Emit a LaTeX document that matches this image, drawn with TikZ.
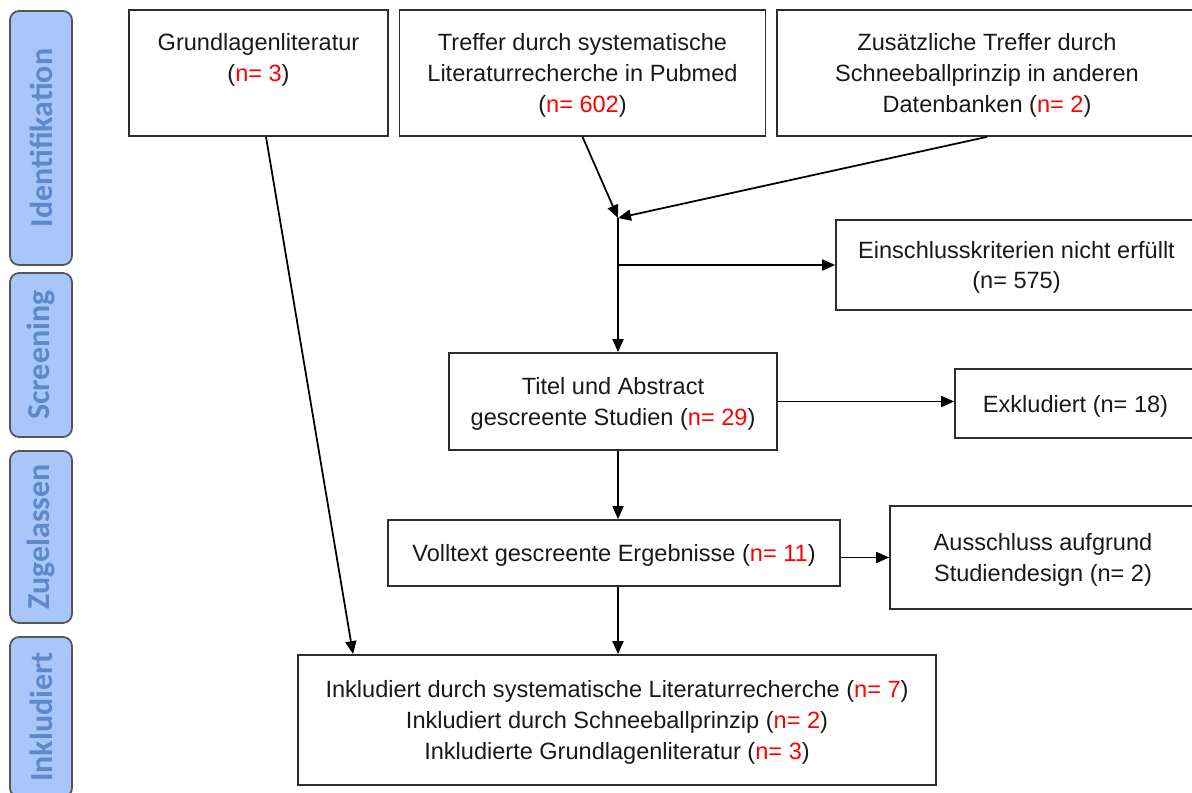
\documentclass[tikz,border=0pt]{standalone}
\usepackage{fontspec}
\setmainfont{Liberation Sans}
\newfontfamily\phasefont{Carlito}
\usetikzlibrary{arrows.meta}
\definecolor{phasefill}{RGB}{169,198,250}
\definecolor{phasetext}{RGB}{94,136,202}
\definecolor{phaseline}{RGB}{85,85,85}
\definecolor{boxline}{RGB}{45,45,45}
\newcommand{\nred}[1]{\textcolor{red}{#1}}
\begin{document}
\begin{tikzpicture}[x=0.02cm,y=-0.02cm,line width=1pt,
  box/.style={draw=boxline,align=center,inner sep=0pt,text depth=0pt,text=black!90,font=\fontsize{13.4}{17.6}\selectfont},
  phase/.style={draw=phaseline,fill=phasefill,rounded corners=0.18cm,rotate=90,inner sep=0pt,minimum height=1.24cm,text=phasetext,font=\phasefont\bfseries\fontsize{18.2}{20}\selectfont},
  >={Triangle[length=0.26cm,width=0.22cm]}]
\useasboundingbox (0,0) rectangle (1192,793);
\node[phase,minimum width=5.08cm] (ident) at (41,138) {Identifikation};
\node[phase,minimum width=3.28cm] (screen) at (41,355) {Screening};
\node[phase,minimum width=3.44cm] (zugel) at (41,537) {Zugelassen};
\node[phase,minimum width=3.2cm] (inklphase) at (41,717) {Inkludiert};
\node[box,minimum width=5.18cm,minimum height=2.52cm] (grund) at (258.5,73) {Grundlagenliteratur\\(\nred{n= 3})\\\mbox{}};
\node[box,minimum width=7.32cm,minimum height=2.52cm] (treffer) at (582.5,73) {Treffer durch systematische\\Literaturrecherche in Pubmed\\(\nred{n= 602})};
\node[box,minimum width=8.4cm,minimum height=2.52cm] (zus) at (987,73) {Zusätzliche Treffer durch\\Schneeballprinzip in anderen\\Datenbanken (\nred{n= 2})};
\coordinate (j) at (618,218);
\node[box,minimum width=7.22cm,minimum height=1.8cm] (einschl) at (1016.5,265) {Einschlusskriterien nicht erfüllt\\(n= 575)};
\node[box,minimum width=6.56cm,minimum height=1.94cm] (titel) at (613,401.5) {Titel und Abstract\\gescreente Studien (\nred{n= 29})};
\node[box,minimum width=4.82cm,minimum height=1.38cm] (exkl) at (1075.5,403.5) {Exkludiert (n= 18)};
\node[box,minimum width=9.04cm,minimum height=1.32cm] (volltext) at (614,553) {Volltext gescreente Ergebnisse (\nred{n= 11})};
\node[box,minimum width=6.12cm,minimum height=2.06cm] (aussch) at (1043,557.5) {Ausschluss aufgrund\\Studiendesign (n= 2)};
\node[box,minimum width=12.76cm,minimum height=2.6cm] (inkl) at (617,720) {Inkludiert durch systematische Literaturrecherche (\nred{n= 7})\\Inkludiert durch Schneeballprinzip (\nred{n= 2})\\Inkludierte Grundlagenliteratur (\nred{n= 3})};
\draw[->] ([xshift=0.15cm]grund.south) -- ([xshift=-5.28cm]inkl.north);
\draw[->] (treffer.south) -- (j);
\draw[->] (zus.south) -- (j);
\draw[->] (j) -- (titel.north -| j);
\draw[->] (j |- einschl.west) -- (einschl.west);
\draw[->] (titel.east) -- (titel.east -| exkl.west);
\draw[->] (titel.south -| j) -- (volltext.north -| j);
\draw[->] (volltext.east |- aussch.west) -- (aussch.west);
\draw[->] (volltext.south -| j) -- (inkl.north -| j);
\end{tikzpicture}
\end{document}
